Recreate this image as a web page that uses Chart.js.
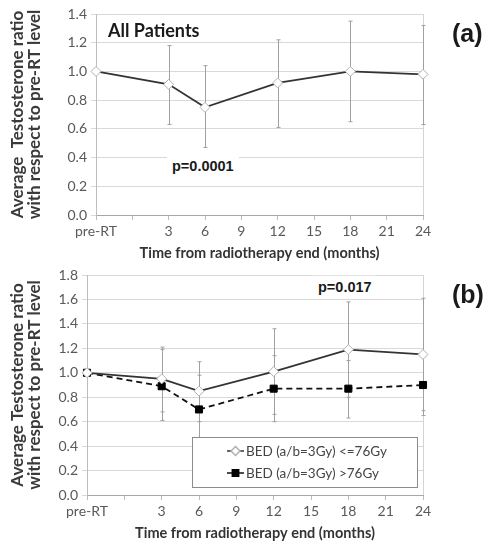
<!DOCTYPE html>
<html>
<head>
<meta charset="utf-8">
<script src="https://cdn.jsdelivr.net/npm/chart.js@4.4.1/dist/chart.umd.min.js"></script>
<style>
  body { margin: 0; background: #fff; width: 488px; height: 542px; position: relative; overflow: hidden; font-family: Lato, "Liberation Sans", sans-serif; }
  .box { position: absolute; left: 0; width: 488px; }
  .note { position: absolute; font-weight: bold; color: #1a1a1a; white-space: nowrap; transform: translateY(-50%); line-height: 1; }
  .pval { font-family: "Liberation Sans", Arial, sans-serif; font-size: 14.5px; background: #fff; padding: 4px 5px; }
  .panel { font-family: "Liberation Sans", Arial, sans-serif; font-size: 25px; }
</style>
</head>
<body>
<div class="box" style="top:0;height:262px"><canvas id="chartA"></canvas></div>
<div class="box" style="top:262px;height:280px"><canvas id="chartB"></canvas></div>

<div class="note" style="left:108px;top:30px;font-size:18px">All Patients</div>
<div class="note pval" style="left:167px;top:166px">p=0.0001</div>
<div class="note pval" style="left:313px;top:287px">p=0.017</div>
<div class="note panel" style="left:452px;top:33px">(a)</div>
<div class="note panel" style="left:452px;top:294px">(b)</div>

<script>
// months after radiotherapy; -3 stands for the pre-RT baseline
const months = [-3, 3, 6, 12, 18, 24];

// (a) all patients
const ratioAll = [1.0, 0.91, 0.75, 0.92, 1.0, 0.98];
const lowAll = [null, 0.63, 0.47, 0.61, 0.65, 0.63];
const highAll = [null, 1.18, 1.04, 1.22, 1.35, 1.32];

// (b) split by BED
const labelLow = 'BED (a/b=3Gy) <=76Gy';
const ratioLowBed = [1.0, 0.95, 0.85, 1.01, 1.19, 1.15];
const lowLowBed = [null, 0.68, 0.60, 0.66, 0.80, 0.69];
const highLowBed = [null, 1.21, 1.09, 1.36, 1.58, 1.61];

const labelHigh = 'BED (a/b=3Gy) >76Gy';
const ratioHighBed = [1.0, 0.89, 0.70, 0.87, 0.87, 0.90];
const lowHighBed = [null, 0.61, 0.42, 0.60, 0.63, 0.65];
const highHighBed = [null, 1.19, 0.98, 1.14, 1.10, 1.14];

const xTitle = 'Time from radiotherapy end (months)';
const yTitleA = ['Average  Testosterone ratio', 'with respect to pre-RT level'];
const yTitleB = ['Average Testosterone ratio', 'with respect to pre-RT level'];

const pts = (vals) => vals.map((v, i) => ({ x: months[i], y: v }));

const errorBars = {
  id: 'errorBars',
  beforeDatasetsDraw(chart) {
    const { ctx, scales: { x, y } } = chart;
    ctx.save();
    ctx.strokeStyle = '#a0a0a0';
    ctx.lineWidth = 1;
    chart.data.datasets.forEach(ds => {
      ds.low.forEach((lo, i) => {
        if (lo == null) return;
        const px = Math.round(x.getPixelForValue(ds.data[i].x)) + 0.5;
        const top = y.getPixelForValue(ds.high[i]);
        const bot = y.getPixelForValue(lo);
        ctx.beginPath();
        ctx.moveTo(px, top); ctx.lineTo(px, bot);
        ctx.moveTo(px - 2, top); ctx.lineTo(px + 2, top);
        ctx.moveTo(px - 2, bot); ctx.lineTo(px + 2, bot);
        ctx.stroke();
      });
    });
    ctx.restore();
  }
};

// boxed legend in the lower right of the plot
const boxLegend = {
  id: 'boxLegend',
  afterDatasetsDraw(chart) {
    const { ctx, chartArea } = chart;
    const w = 225, h = 50;
    const left = Math.round(chartArea.right - 6 - w), top = Math.round(chartArea.bottom - 8 - h);
    ctx.save();
    ctx.fillStyle = '#fff';
    ctx.fillRect(left, top, w, h);
    ctx.strokeStyle = '#8c8c8c';
    ctx.lineWidth = 1;
    ctx.strokeRect(left + 0.5, top + 0.5, w, h);
    chart.data.datasets.forEach((ds, i) => {
      const cy = top + 14 + i * 22;
      const sx = left + 35;
      ctx.setLineDash([]);
      ctx.strokeStyle = ds.borderColor;
      ctx.lineWidth = 1.5;
      ctx.beginPath(); ctx.moveTo(sx, cy); ctx.lineTo(sx + 17, cy); ctx.stroke();
      ctx.strokeStyle = ds.pointBorderColor;
      ctx.fillStyle = ds.pointBackgroundColor;
      Chart.helpers.drawPoint(ctx, { pointStyle: ds.pointStyle, radius: ds.pointRadius - 0.5, borderWidth: 1, rotation: 0 }, sx + 8.5, cy);
      ctx.fillStyle = '#444';
      ctx.font = '13.5px Lato, "Liberation Sans", sans-serif';
      ctx.textBaseline = 'middle';
      ctx.fillText(ds.label, left + 54, cy + 1);
    });
    ctx.restore();
  }
};

function options(yMax, yWidth, yTitle, area) {
  return {
    responsive: true,
    maintainAspectRatio: false,
    animation: false,
    layout: { padding: { top: area.top, right: 65, left: 0, bottom: 0 } },
    plugins: { legend: { display: false }, tooltip: { enabled: false } },
    scales: {
      x: {
        type: 'linear', min: -3, max: 24,
        afterFit: (axis) => { axis.height = area.xHeight; },
        ticks: {
          stepSize: 3, padding: 3, color: '#595959',
          maxRotation: 0, minRotation: 0, autoSkip: false,
          font: { family: 'Lato', size: 14 },
          callback: (v) => v === -3 ? 'pre-RT' : (v === 0 ? '' : v)
        },
        grid: {
          color: (c) => c.tick && c.tick.value === 24 ? '#d4d4d4' : 'rgba(0,0,0,0)',
          tickColor: '#bdbdbd', tickLength: 5
        },
        border: { color: '#a6a6a6' },
        title: {
          display: true, text: xTitle, color: '#333',
          font: { family: 'Lato', size: 14.5, weight: 'bold' },
          padding: { top: 1, bottom: 0 }
        }
      },
      y: {
        min: 0, max: yMax,
        afterFit: (axis) => { axis.width = yWidth; },
        ticks: {
          stepSize: 0.2, padding: 4, color: '#595959',
          font: { family: 'Lato', size: 14 },
          callback: (v) => v.toFixed(1)
        },
        grid: { color: '#d9d9d9', tickLength: 5 },
        border: { color: '#bdbdbd' },
        title: {
          display: true, text: yTitle, color: '#3a3a3a',
          font: { family: 'Lato', size: 17, weight: 'bold', lineHeight: 1.0 },
          padding: { top: 9, bottom: 0 }
        }
      }
    }
  };
}

new Chart(document.getElementById('chartA'), {
  type: 'line',
  data: {
    datasets: [{
      label: 'All Patients',
      data: pts(ratioAll), low: lowAll, high: highAll,
      borderColor: '#333', borderWidth: 1.8, clip: false,
      pointStyle: 'rectRot', pointRadius: 5,
      pointBackgroundColor: '#fff', pointBorderColor: '#b0b0b0', pointBorderWidth: 1
    }]
  },
  options: options(1.4, 96, yTitleA, { top: 14, xHeight: 47 }),
  plugins: [errorBars]
});

new Chart(document.getElementById('chartB'), {
  type: 'line',
  data: {
    datasets: [{
      label: labelLow,
      data: pts(ratioLowBed), low: lowLowBed, high: highLowBed,
      borderColor: '#333', borderWidth: 1.8, clip: false,
      pointStyle: 'rectRot', pointRadius: 5,
      pointBackgroundColor: '#fff', pointBorderColor: '#b0b0b0', pointBorderWidth: 1
    }, {
      label: labelHigh,
      data: pts(ratioHighBed), low: lowHighBed, high: highHighBed,
      borderColor: '#111', borderWidth: 1.8, borderDash: [6, 4], clip: false,
      pointStyle: 'rect', pointRadius: 5,
      pointBackgroundColor: '#000', pointBorderColor: '#000', pointBorderWidth: 1
    }]
  },
  options: options(1.8, 87, yTitleB, { top: 13, xHeight: 47 }),
  plugins: [errorBars, boxLegend]
});
</script>
</body>
</html>
